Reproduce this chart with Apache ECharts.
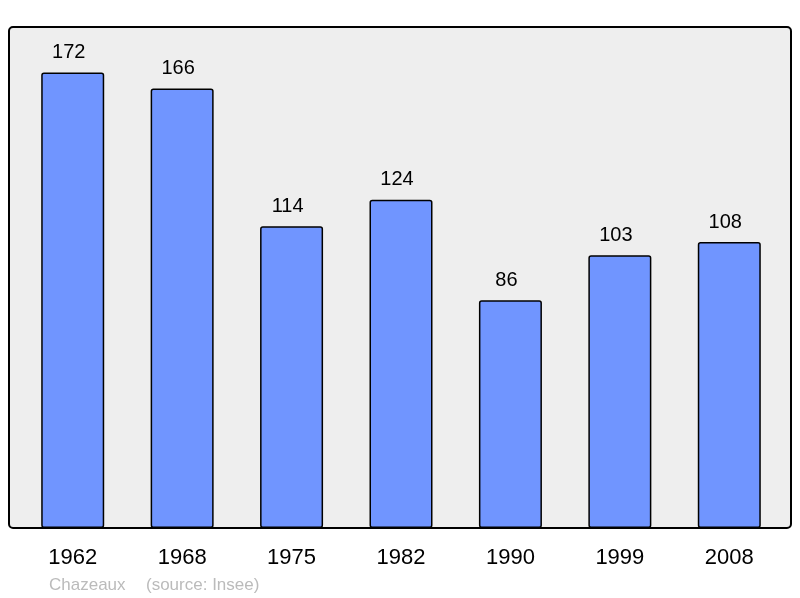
<!DOCTYPE html>
<html><head><meta charset="utf-8">
<script src="https://cdn.jsdelivr.net/npm/echarts@6/dist/echarts.min.js"></script>
<style>html,body{margin:0;padding:0;background:#fff;}#c{width:800px;height:598px;}</style>
</head><body><div id="c"></div>
<script>
var years = ['1962','1968','1975','1982','1990','1999','2008'];
var population = [172,166,114,124,86,103,108];
var footerName = 'Chazeaux';
var footerSource = '(source: Insee)';
var chart = echarts.init(document.getElementById('c'));
chart.setOption({
  animation:false,
  backgroundColor:'#ffffff',
  graphic:[
    {type:'rect', z:-10, shape:{x:9,y:27,width:782,height:501,r:4}, style:{fill:'#eeeeee',stroke:'#000',lineWidth:2}},
    {type:'text', left:49, top:577, style:{text:footerName, fill:'#bbbbbb', font:'17px "Liberation Sans", Arial, sans-serif'}},
    {type:'text', left:146, top:577, style:{text:footerSource, fill:'#bbbbbb', font:'17px "Liberation Sans", Arial, sans-serif'}}
  ],
  grid:{left:18,right:16,top:27,bottom:70},
  xAxis:{type:'category',data:years,axisLine:{show:false},axisTick:{show:false},
    axisLabel:{color:'#000',fontSize:22,margin:19,fontFamily:'Liberation Sans'}},
  yAxis:{type:'value',min:0,max:189.2,show:false,splitLine:{show:false}},
  series:[{type:'bar',data:population,barWidth:63,
    itemStyle:{color:'#7095ff',borderColor:'#000',borderWidth:1.5,borderRadius:2},
    label:{show:true,position:'top',distance:10,offset:[-4,0],color:'#000',fontSize:20,fontFamily:'Liberation Sans'}}]
});
</script></body></html>
